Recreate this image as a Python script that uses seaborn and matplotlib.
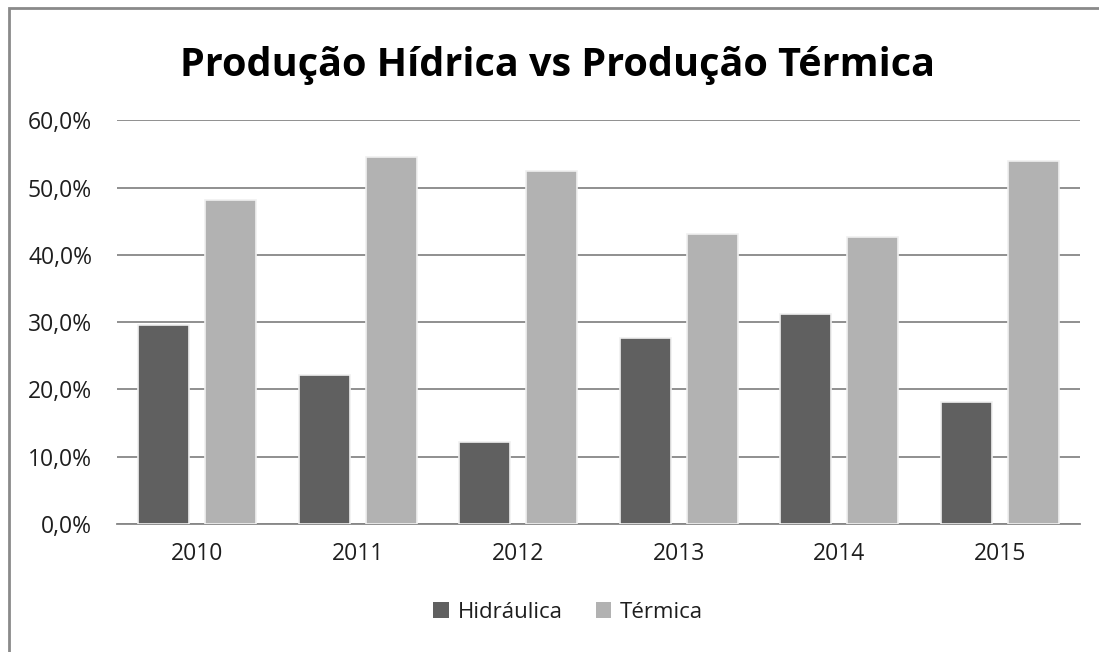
import pandas as pd
import matplotlib
matplotlib.use("Agg")
import matplotlib.pyplot as plt
import seaborn as sns
from matplotlib.ticker import FuncFormatter
from matplotlib.patches import Patch, Rectangle

# Data (percent)
years = ["2010", "2011", "2012", "2013", "2014", "2015"]
hidraulica = [29.6, 22.1, 12.2, 27.7, 31.2, 18.2]
termica = [48.1, 54.5, 52.5, 43.1, 42.6, 54.0]
series_names = ["Hidráulica", "Térmica"]
colors = ["#606060", "#b2b2b2"]

df = pd.DataFrame({
    "ano": years * 2,
    "valor": hidraulica + termica,
    "serie": [series_names[0]] * len(years) + [series_names[1]] * len(years),
})

sns.set_style("white")
plt.rcParams["font.family"] = ["Open Sans", "DejaVu Sans"]
text_color = "#1e1e1e"

fig = plt.figure(figsize=(10.99, 6.52), dpi=100)
ax = fig.add_axes([0.1065, 0.1963, 0.8762, 0.6192])

sns.barplot(data=df, x="ano", y="valor", hue="serie", palette=colors,
            width=0.835, gap=0.24, edgecolor="#f0f0f0", linewidth=1.2,
            legend=False, ax=ax, zorder=3)

ax.set_ylim(0, 60)
ax.set_xlim(-0.5, 5.5)
ax.set_yticks(range(0, 61, 10))
ax.yaxis.set_major_formatter(FuncFormatter(lambda v, p: f"{v:.1f}%".replace(".", ",")))
ax.grid(axis="y", color="#878787", linewidth=1.3, zorder=0)
ax.set_axisbelow(True)
ax.set_xlabel("")
ax.set_ylabel("")
for s in ["top", "left", "right"]:
    ax.spines[s].set_visible(False)
ax.spines["bottom"].set_color("#878787")
ax.spines["bottom"].set_linewidth(1.3)
ax.tick_params(axis="y", length=0, pad=18, labelsize=16.5, labelcolor=text_color)
ax.tick_params(axis="x", length=0, pad=13, labelsize=16.5, labelcolor=text_color)

fig.text(0.507, 0.899, "Produção Hídrica vs Produção Térmica", ha="center", va="center",
         fontsize=28.5, fontweight="bold", color="black")

handles = [Patch(facecolor=c, edgecolor="none") for c in colors]
fig.legend(handles, series_names, loc="center", bbox_to_anchor=(0.517, 0.061), ncol=2,
           frameon=False, fontsize=16, handlelength=0.7, handleheight=0.7,
           handletextpad=0.4, columnspacing=1.5, labelcolor=text_color)

# chart border (top and left visible, cropped on the other sides)
fig.add_artist(Rectangle((9 / 1099, -0.05), 1.2, 1.05 - 8 / 652, transform=fig.transFigure,
                         fill=False, edgecolor="#8a8a8a", linewidth=2))

fig.savefig("out.png", dpi=100, facecolor="white")
